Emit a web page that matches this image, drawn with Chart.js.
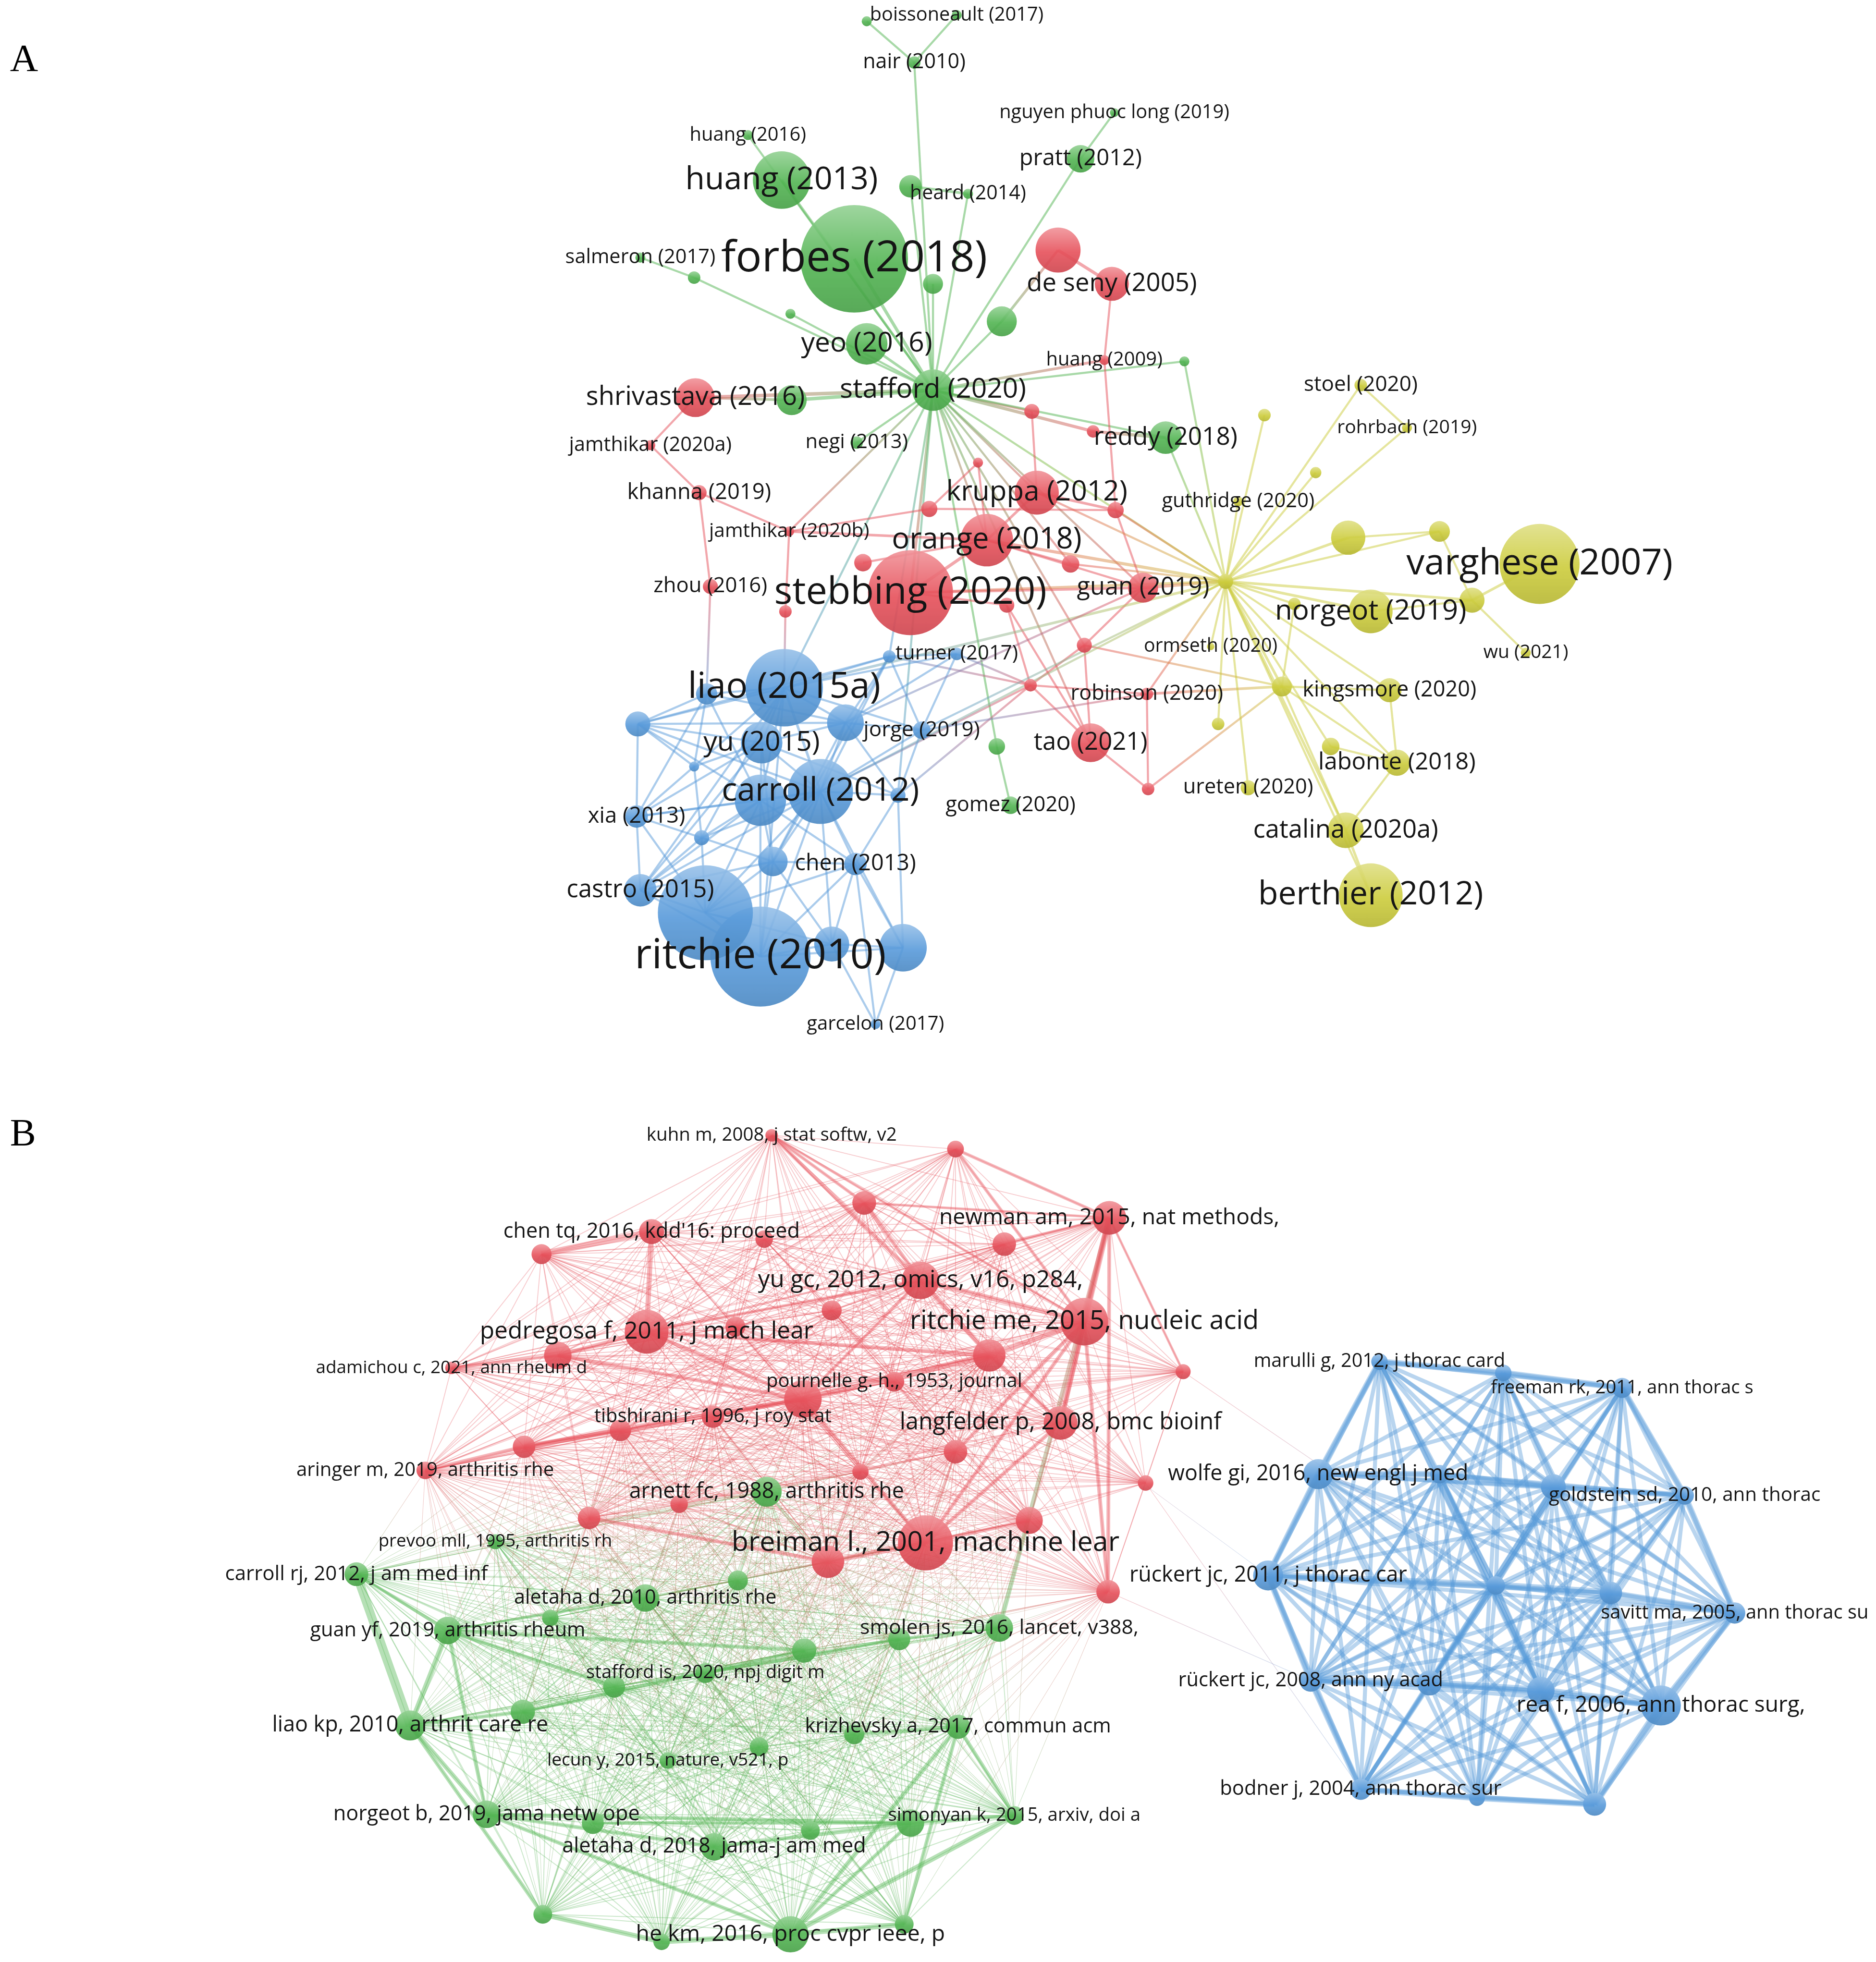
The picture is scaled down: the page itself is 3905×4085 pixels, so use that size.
<!DOCTYPE html>
<html>
<head>
<meta charset="utf-8">
<title>Citation and co-citation networks</title>
<script src="https://cdn.jsdelivr.net/npm/chart.js@4.4.1/dist/chart.umd.min.js"></script>
<style>
  html, body { margin: 0; padding: 0; background: #fff; }
  #page { position: relative; width: 3905px; height: 4085px; overflow: hidden; }
  canvas { position: absolute; left: 0; }
</style>
</head>
<body>
<div id="page">
  <canvas id="netA" width="3905" height="2252" style="top:0;width:3905px;height:2252px"></canvas>
  <canvas id="netB" width="3905" height="1833" style="top:2252px;width:3905px;height:1833px"></canvas>
</div>
<script>
// ---- panel A : citation network of documents (map coordinates, weight = node radius) ----
const aLabel = [
  "boissoneault (2017)", "#g1", "nair (2010)", "nguyen phuoc long (2019)", "huang (2016)", "pratt (2012)", "huang (2013)", "#g2", "heard (2014)", "salmeron (2017)",
  "forbes (2018)", "#g3", "#g4", "#g5", "#g6", "yeo (2016)", "#g7", "stafford (2020)", "#g8", "negi (2013)", "reddy (2018)", "#g9", "gomez (2020)",
  "#r1", "de seny (2005)", "huang (2009)", "shrivastava (2016)", "#r2", "#r3", "jamthikar (2020a)", "#r4", "khanna (2019)", "kruppa (2012)",
  "#r5", "#r6", "jamthikar (2020b)", "orange (2018)", "#r7", "#r8", "zhou (2016)", "stebbing (2020)", "guan (2019)", "#r9",
  "#r10", "#r11", "#r12", "robinson (2020)", "tao (2021)", "#r13",
  "#b1", "turner (2017)", "liao (2015a)", "#b2", "#b3", "#b4", "jorge (2019)", "yu (2015)", "#b5", "carroll (2012)",
  "#b6", "#b7", "xia (2013)", "#b8", "#b9", "chen (2013)", "castro (2015)", "#b10", "ritchie (2010)", "#b11", "#b12", "garcelon (2017)",
  "#y1", "stoel (2020)", "rohrbach (2019)", "#y2", "guthridge (2020)", "#y4", "#y3", "varghese (2007)", "#hub", "#y5",
  "norgeot (2019)", "#y6", "ormseth (2020)", "wu (2021)", "#y7", "kingsmore (2020)", "#y8", "#y9", "labonte (2018)", "ureten (2020)",
  "catalina (2020a)", "berthier (2012)"
];
const aX = [
  765, 693, 731, 891, 598, 864, 625, 728, 774, 512, 683, 555, 746, 632, 801, 693, 947, 746, 633, 685, 932, 797, 808,
  846, 889, 883, 556, 825, 874, 520, 782, 559, 829, 743, 892, 631, 789, 690, 856, 568, 728, 914, 805, 628, 867, 824, 917, 872, 918,
  711, 765, 627, 565, 510, 676, 737, 609, 555, 656, 608, 718, 509, 561, 618, 684, 512, 564, 608, 665, 722, 700,
  1011, 1088, 1125, 1052, 990, 1151, 1078, 1231, 980, 1035, 1096, 1177, 968, 1220, 1025, 1111, 974, 1064, 1117, 998, 1076, 1096
];
const aY = [
  12, 17, 50, 90, 108, 127, 144, 149, 155, 206, 207, 222, 227, 251, 257, 275, 289, 312, 320, 354, 350, 597, 644,
  200, 227, 288, 318, 329, 345, 356, 370, 394, 394, 407, 408, 425, 432, 450, 451, 469, 474, 470, 484, 489, 516, 548, 555, 594, 631,
  525, 523, 550, 555, 579, 578, 584, 594, 613, 633, 640, 636, 653, 670, 689, 691, 712, 730, 765, 755, 758, 819,
  332, 308, 342, 378, 401, 425, 430, 451, 465, 483, 489, 480, 517, 522, 549, 552, 579, 597, 610, 630, 664, 716
];
const aWeight = [
  4, 4, 5, 3.5, 4, 11, 23, 9, 4, 4, 43, 5, 8, 4, 12, 16.6, 4, 16.6, 12, 5, 13, 6.6, 7,
  18, 13.6, 4, 15.5, 6, 5, 4, 4, 6, 17.6, 6.5, 6.5, 4, 21, 7, 7, 6, 34, 12, 6, 5, 6, 5, 5, 15.5, 5,
  5, 5, 31, 8.5, 10, 14.7, 7, 16.6, 4, 26, 20.5, 6, 9, 6, 11.8, 9, 13, 38, 40, 14, 19, 4,
  5, 5, 4, 4.5, 4, 8.3, 13.7, 32, 6, 5, 17.5, 10, 3, 4, 8, 9.6, 5, 7, 10.5, 6, 14.3, 25.5
];
const aCluster = [...'g'.repeat(23), ...'r'.repeat(26), ...'b'.repeat(22), ...'y'.repeat(22)];
const aLinks = [
  ["boissoneault", "nair", 1.2], ["#g1", "nair", 1.2], ["nair", "stafford", 1.2], ["nguyen", "pratt", 1.2], ["pratt", "stafford", 1.2],
  ["huang (2016)", "stafford", 1.2], ["huang (2013)", "stafford", 1.5], ["forbes", "stafford", 1.8], ["#g2", "heard", 1.5], ["#g2", "stafford", 1.2],
  ["heard", "stafford", 1.2], ["salmeron", "#g3", 1.2], ["#g3", "stafford", 1.2], ["#g5", "stafford", 1.2], ["#g4", "stafford", 1.2],
  ["#g6", "stafford", 1.2], ["yeo", "stafford", 1.5], ["#g8", "stafford", 2], ["shrivastava", "stafford", 2], ["negi", "stafford", 1.2],
  ["stafford", "huang (2009)", 1.5], ["stafford", "#g7", 1.2], ["#g7", "#hub", 1.2], ["stafford", "#r3", 1.8], ["#r3", "reddy", 1.8],
  ["stafford", "#r2", 1.2], ["reddy", "#hub", 1.2], ["stafford", "reddy", 1.2], ["stafford", "#g9", 1.2], ["#g9", "gomez", 1.2],
  ["stafford", "kruppa", 1.2], ["stafford", "orange", 1.2], ["stafford", "stebbing", 1.5], ["stafford", "guan", 1.2], ["stafford", "#hub", 1.2],
  ["stafford", "#r8", 1.2], ["stafford", "tao", 1.2], ["stafford", "jamthikar (2020b)", 1.2], ["stafford", "liao", 1.2], ["stafford", "#b1", 1.2],
  ["stafford", "#b7", 1.2], ["stafford", "#r11", 1.2], ["#r1", "de seny", 1.8], ["#r1", "#g6", 1.5], ["de seny", "huang (2009)", 1.2],
  ["huang (2009)", "#r6", 1.2],
  ["shrivastava", "jamthikar (2020a)", 1.2], ["shrivastava", "#g8", 1.5], ["jamthikar (2020a)", "khanna", 1.2], ["khanna", "jamthikar (2020b)", 1.2],
  ["khanna", "zhou", 1.2], ["jamthikar (2020b)", "orange", 1.5], ["jamthikar (2020b)", "#r5", 1.2], ["#r5", "#r6", 1.2], ["jamthikar (2020b)", "#r10", 1.2],
  ["#r10", "liao", 1.2], ["zhou", "#b2", 1.2], ["#r2", "kruppa", 1.2], ["#r4", "orange", 1.2], ["#r4", "#r5", 1.2],
  ["kruppa", "#r6", 1.5], ["kruppa", "orange", 1.5], ["orange", "stebbing", 1.8], ["orange", "#r8", 1.2], ["orange", "#hub", 1.8],
  ["orange", "guan", 1.2], ["#r6", "guan", 1.2], ["#r6", "#hub", 1.2], ["#r7", "orange", 1.2], ["stebbing", "#r9", 1.2],
  ["#r9", "tao", 1.2], ["#r9", "#r12", 1.2], ["stebbing", "guan", 1.5], ["stebbing", "#hub", 1.5], ["guan", "#hub", 1.8],
  ["guan", "#r11", 1.2], ["#r11", "#r12", 1.2], ["#r11", "tao", 1.2], ["#r12", "robinson", 1.2], ["#r12", "tao", 1.2],
  ["#r12", "#b1", 1.2], ["#r12", "carroll", 1.2], ["robinson", "#r13", 1.2], ["tao", "#r13", 1.2], ["robinson", "#hub", 1.2],
  ["robinson", "#y7", 1.5], ["#r13", "#y7", 1.2], ["#r8", "#hub", 1.2], ["#r11", "#y7", 1.2], ["kruppa", "#hub", 1.2],
  ["liao", "#b2", 1.2], ["liao", "#b3", 1.2], ["liao", "yu", 1.2], ["liao", "carroll", 1.5], ["liao", "#b6", 1.2],
  ["liao", "#b4", 1.2], ["liao", "jorge", 1.2], ["liao", "#b1", 1.2], ["liao", "#b5", 1.2], ["liao", "#b8", 1.2],
  ["liao", "castro", 1.2], ["liao", "ritchie", 1.2], ["liao", "turner", 1.2], ["#b1", "turner", 1.2], ["#b1", "#b3", 1.2],
  ["#b1", "carroll", 1.2], ["#b1", "#b4", 1.2], ["#b1", "#b9", 1.2], ["turner", "jorge", 1.2], ["turner", "#b4", 1.2],
  ["#b3", "#b2", 1.2], ["#b3", "yu", 1.2], ["#b3", "#b5", 1.2], ["#b3", "xia", 1.2], ["#b3", "carroll", 1.2],
  ["#b3", "#b6", 1.2], ["#b3", "#b4", 1.2], ["yu", "#b6", 1.2], ["yu", "carroll", 1.2], ["yu", "#b4", 1.2],
  ["yu", "#b5", 1.2], ["yu", "xia", 1.2], ["yu", "#b9", 1.2], ["yu", "castro", 1.2], ["yu", "#b7", 1.2],
  ["carroll", "#b6", 1.5], ["carroll", "#b4", 1.2], ["carroll", "#b7", 1.2], ["carroll", "chen", 1.2], ["carroll", "#b12", 1.2],
  ["carroll", "#b11", 1.2], ["carroll", "ritchie", 1.2], ["carroll", "#b10", 1.2], ["carroll", "#b9", 1.2], ["carroll", "xia", 1.2],
  ["carroll", "jorge", 1.2], ["carroll", "#b8", 1.2], ["carroll", "castro", 1.2], ["#b6", "#b9", 1.2], ["#b6", "#b8", 1.2],
  ["#b6", "castro", 1.2], ["#b6", "xia", 1.2], ["#b6", "#b10", 1.2], ["#b6", "ritchie", 1.2], ["#b6", "chen", 1.2],
  ["#b6", "#b2", 1.2], ["xia", "#b5", 1.2], ["xia", "#b8", 1.2], ["xia", "castro", 1.2], ["xia", "#b2", 1.2],
  ["xia", "#b10", 1.2], ["#b8", "castro", 1.2], ["#b8", "#b10", 1.2], ["#b8", "#b9", 1.2], ["#b8", "#b5", 1.2],
  ["#b9", "#b10", 1.2], ["#b9", "ritchie", 1.2], ["#b9", "chen", 1.2], ["#b9", "#b11", 1.2], ["chen", "#b7", 1.2],
  ["chen", "#b11", 1.2], ["chen", "#b12", 1.2], ["chen", "ritchie", 1.2], ["chen", "garcelon", 1.2], ["castro", "#b10", 1.2],
  ["castro", "ritchie", 1.2], ["castro", "#b9", 1.2], ["#b10", "ritchie", 1.5], ["#b10", "#b11", 1.2], ["#b10", "chen", 1.2],
  ["ritchie", "#b11", 1.2], ["ritchie", "#b12", 1.2], ["#b11", "#b12", 1.2], ["#b11", "garcelon", 1.2], ["#b12", "garcelon", 1.2],
  ["#b12", "#b7", 1.2], ["#b7", "jorge", 1.2], ["#b7", "#b4", 1.2], ["#b4", "jorge", 1.2], ["#b4", "#b2", 1.2],
  ["#b4", "#b9", 1.2], ["#b5", "#b2", 1.2], ["jorge", "#b1", 1.2],
  ["jorge", "#hub", 1.2], ["liao", "#hub", 1.5], ["carroll", "#hub", 1.2], ["#b4", "guan", 1.2], ["#b7", "#r12", 1.2],
  ["jorge", "robinson", 1.2], ["turner", "#r12", 1.2],
  ["#hub", "#y1", 1.2], ["#hub", "stoel", 1.2], ["#hub", "#y2", 1.2], ["#hub", "rohrbach", 1.2], ["#hub", "guthridge", 1.2],
  ["#hub", "#y3", 1.5], ["#hub", "#y4", 1.2], ["#hub", "#y6", 1.5], ["#hub", "norgeot", 1.5], ["#hub", "#y5", 1.2],
  ["#hub", "kingsmore", 1.2], ["#hub", "#y7", 1.5], ["#hub", "labonte", 1.2], ["#hub", "#y9", 1.2], ["#hub", "ureten", 1.2],
  ["#hub", "#y8", 1.2], ["#hub", "catalina", 1.5], ["#hub", "ormseth", 1.2], ["#hub", "berthier", 1.2], ["stoel", "rohrbach", 1.2],
  ["#y3", "#y4", 1.2], ["#y4", "#y6", 1.2], ["#y6", "varghese", 1.5], ["#y6", "wu", 1.2], ["norgeot", "#y6", 1.2],
  ["#y5", "#y7", 1.2], ["#y7", "kingsmore", 1.2], ["#y7", "labonte", 1.2], ["#y9", "labonte", 1.2], ["kingsmore", "labonte", 1.2],
  ["labonte", "catalina", 1.2], ["#y7", "catalina", 1.2], ["catalina", "berthier", 1.5]
];

// ---- panel B : co-citation network of cited references ----
const bLabel = [
  "kuhn m, 2008, j stat softw, v2", "#r2", "#r3", "newman am, 2015, nat methods,", "chen tq, 2016, kdd'16: proceed", "#r6", "#r7", "#r8",
  "yu gc, 2012, omics, v16, p284,", "#r10", "ritchie me, 2015, nucleic acid", "pedregosa f, 2011, j mach lear", "#r13", "#r14",
  "adamichou c, 2021, ann rheum d", "#r16", "#r17", "pournelle g. h., 1953, journal", "#r19", "tibshirani r, 1996, j roy stat",
  "langfelder p, 2008, bmc bioinf", "#r22", "#r23", "#r24", "aringer m, 2019, arthritis rhe", "#r26", "#r27", "#r28", "#r29", "#r30",
  "breiman l., 2001, machine lear", "#r32", "#r33",
  "arnett fc, 1988, arthritis rhe", "prevoo mll, 1995, arthritis rh", "carroll rj, 2012, j am med inf", "#g4", "aletaha d, 2010, arthritis rhe",
  "#g6", "guan yf, 2019, arthritis rheum", "smolen js, 2016, lancet, v388,", "#g9", "#g10", "stafford is, 2020, npj digit m", "#g12", "#g13",
  "liao kp, 2010, arthrit care re", "#g15", "krizhevsky a, 2017, commun acm", "#g17", "lecun y, 2015, nature, v521, p",
  "norgeot b, 2019, jama netw ope", "#g20", "#g21", "simonyan k, 2015, arxiv, doi a", "#g23", "aletaha d, 2018, jama-j am med", "#g25",
  "he km, 2016, proc cvpr ieee, p", "#g27", "#g28",
  "marulli g, 2012, j thorac card", "#b2", "freeman rk, 2011, ann thorac s", "wolfe gi, 2016, new engl j med", "#b5", "#b6",
  "goldstein sd, 2010, ann thorac", "rückert jc, 2011, j thorac car", "#b9", "#b10", "savitt ma, 2005, ann thorac su",
  "rückert jc, 2008, ann ny acad", "#b13", "#b14", "rea f, 2006, ann thorac surg,", "bodner j, 2004, ann thorac sur", "#b17", "#b18"
];
const bX = [
  617, 764, 691, 887, 521, 433, 611, 803, 736, 665, 867, 517, 588, 446, 361, 791, 946, 715, 642, 570,
  848, 496, 419, 764, 340, 688, 916, 543, 471, 823, 740, 662, 886,
  613, 396, 285, 590, 516, 440, 358, 799, 719, 643, 564, 491, 418, 328, 683, 766, 607, 534, 389, 474,
  728, 811, 648, 571, 434, 632, 529, 723,
  1103, 1202, 1297, 1054, 1151, 1242, 1347, 1014, 1196, 1288, 1387, 1048, 1143, 1232, 1328, 1088, 1181, 1275
];
const bY = [
  908, 919, 962, 974, 985, 1003, 991, 995, 1024, 1048, 1057, 1065, 1061, 1084, 1094, 1084, 1097, 1105, 1119, 1133,
  1138, 1144, 1157, 1161, 1176, 1177, 1186, 1203, 1214, 1216, 1234, 1249, 1273,
  1193, 1233, 1259, 1264, 1278, 1294, 1304, 1302, 1311, 1320, 1338, 1349, 1369, 1380, 1387, 1381, 1397, 1408, 1451, 1458,
  1458, 1452, 1464, 1477, 1531, 1547, 1553, 1539,
  1089, 1098, 1110, 1179, 1179, 1189, 1196, 1260, 1268, 1274, 1290, 1344, 1346, 1352, 1364, 1431, 1438, 1443
];
const bWeight = [
  5, 6.7, 9.5, 13.5, 10, 8, 7, 9.4, 15, 8, 19, 17.5, 8, 11, 5, 13, 6, 8, 15, 9,
  13.5, 8.6, 9, 9.4, 7, 6.5, 6.2, 7, 9, 10.8, 22, 13, 9.4,
  12, 6, 9.5, 8, 11, 6.6, 11, 11, 8.8, 9.7, 8, 8.8, 9.7, 12, 8, 9.7, 7.5, 6.6, 11, 8.8,
  11, 7.5, 7.5, 11, 7.5, 14.5, 6.6, 7.5,
  6.6, 6.6, 8, 12, 7.4, 10, 7.4, 12, 7.4, 9, 8.5, 9, 10, 11, 16, 8.5, 6.3, 9.2
];
const bCluster = [...'r'.repeat(33), ...'g'.repeat(28), ...'b'.repeat(18)];
// clusters whose members are all linked to each other (link width)
const bMesh = [["r", "r", 0.7], ["g", "g", 0.75], ["b", "b", 3.2]];
// red references co-cited with every green reference
const bCrossRed = ["breiman", "#r32", "#r28", "#r29", "#r30", "#r26", "#r24", "#r22", "#r23", "aringer", "tibshirani", "#r19", "#r33", "#r16"];
const bLinks = [
  ["ritchie me", "newman", 5], ["ritchie me", "langfelder", 4], ["ritchie me", "yu gc", 4], ["ritchie me", "#r16", 4], ["ritchie me", "breiman", 3],
  ["newman", "langfelder", 3], ["newman", "smolen", 3.5], ["yu gc", "#r16", 3.5], ["yu gc", "pedregosa", 2.5], ["yu gc", "#r19", 2.5],
  ["#r16", "#r19", 5], ["#r19", "tibshirani", 3], ["#r19", "#r23", 4], ["pedregosa", "chen tq", 4], ["chen tq", "#r6", 5],
  ["pedregosa", "#r14", 3], ["pedregosa", "#r19", 3], ["kuhn", "yu gc", 3], ["kuhn", "#r3", 2.5], ["#r2", "newman", 2.5],
  ["#r3", "yu gc", 3], ["breiman", "#r32", 4], ["breiman", "#r30", 3], ["breiman", "#r19", 3], ["breiman", "langfelder", 3],
  ["#r23", "aringer", 3], ["#r23", "#r22", 3], ["#r29", "#r32", 3], ["#r16", "langfelder", 3], ["#r24", "ritchie me", 3],
  ["newman", "#r33", 3], ["ritchie me", "#r33", 3], ["newman", "#r17", 2], ["pedregosa", "#r16", 3], ["#r14", "#r19", 3],
  ["#r8", "newman", 2.5], ["#r3", "newman", 2], ["kuhn", "ritchie me", 2], ["#r2", "ritchie me", 2.5], ["adamichou", "#r14", 2.5],
  ["carroll rj", "liao kp", 7], ["liao kp", "guan yf", 4], ["liao kp", "norgeot b", 3.5], ["norgeot b", "he km", 3], ["#g25", "#g27", 4],
  ["#g27", "he km", 4], ["he km", "#g28", 4], ["he km", "simonyan", 4], ["he km", "krizhevsky", 3.5], ["#g21", "he km", 3],
  ["simonyan", "krizhevsky", 3], ["simonyan", "#g21", 3], ["guan yf", "#g10", 3], ["guan yf", "#g12", 3], ["#g13", "#g10", 3],
  ["stafford is", "#g9", 3], ["norgeot b", "#g21", 3], ["norgeot b", "aletaha d, 2018", 3], ["aletaha d, 2018", "#g21", 3], ["#g15", "krizhevsky", 3],
  ["liao kp", "#g25", 3], ["guan yf", "norgeot b", 3], ["#g13", "liao kp", 3], ["smolen", "#g9", 2.5], ["aletaha d, 2010", "guan yf", 2],
  ["carroll rj", "guan yf", 2.5], ["krizhevsky", "#g28", 3], ["#g20", "#g21", 2.5],
  ["marulli", "#b2", 5], ["#b2", "freeman", 5], ["freeman", "goldstein", 5], ["goldstein", "savitt", 5], ["savitt", "rea f", 5.5],
  ["rea f", "#b18", 5.5], ["#b18", "#b17", 5], ["#b17", "bodner", 5], ["bodner", "rückert jc, 2008", 5], ["rückert jc, 2008", "rückert jc, 2011", 5],
  ["rückert jc, 2011", "wolfe", 5], ["wolfe", "marulli", 5], ["rückert jc, 2011", "#b9", 6], ["#b9", "#b10", 6], ["#b10", "savitt", 5],
  ["rückert jc, 2008", "#b13", 6], ["#b13", "#b14", 6], ["#b14", "rea f", 6], ["wolfe", "#b5", 5], ["#b5", "#b6", 5], ["#b6", "goldstein", 5],
  ["#r17", "#b9", 0.5], ["#r27", "bodner", 0.5], ["langfelder", "rückert jc, 2011", 0.4], ["#r33", "rückert jc, 2008", 0.5]
];

// label widths as they appear in the figure (0 = no label shown)
const aLabelW = [
  139, 0, 82, 184, 93, 98, 154, 0, 93, 120, 213, 0, 0, 0, 0, 105, 0, 149, 0, 82, 115, 0, 104,
  0, 136, 93, 175, 0, 0, 130, 0, 115, 145, 0, 0, 128, 152, 0, 0, 91, 218, 106, 0, 0, 0, 0, 122, 91, 0,
  0, 98, 154, 0, 0, 0, 93, 93, 0, 158, 0, 0, 78, 0, 0, 97, 118, 0, 201, 0, 0, 110,
  0, 91, 112, 0, 122, 0, 0, 213, 0, 0, 153, 0, 107, 68, 0, 139, 0, 0, 126, 104, 148, 180
];
const bLabelW = [
  200, 0, 0, 272, 237, 0, 0, 0, 260, 0, 279, 267, 0, 0, 217, 0, 0, 205, 0, 190,
  257, 0, 0, 0, 206, 0, 0, 0, 0, 0, 310, 0, 0,
  220, 187, 210, 0, 210, 0, 220, 223, 0, 0, 191, 0, 0, 221, 0, 245, 0, 193, 245, 0,
  0, 202, 0, 243, 0, 247, 0, 0,
  201, 0, 210, 240, 0, 0, 217, 222, 0, 0, 214, 212, 0, 0, 231, 225, 0, 0
];

const K = 3905 / 1500;   // canvas pixels per map unit
const COLORS = { r: [230, 80, 90], g: [82, 180, 82], b: [88, 154, 218], y: [204, 204, 60] };

function rgba(c, a) { return 'rgba(' + Math.round(c[0]) + ',' + Math.round(c[1]) + ',' + Math.round(c[2]) + ',' + a + ')'; }
function tint(c, t) { return c.map(v => v + (255 - v) * t); }
function shade(c, t) { return c.map(v => v * t); }
const ok = (...v) => v.every(Number.isFinite);

function findNode(p, key) {
  let i = p.label.indexOf(key);
  if (i < 0) i = p.label.findIndex(n => n.startsWith(key));
  if (i < 0) console.warn('no node', key);
  return i;
}

function buildEdges(p, links, mesh, cross) {
  const out = [];
  const n = p.label.length;
  (mesh || []).forEach(([c1, c2, w]) => {
    for (let i = 0; i < n; i++) for (let j = i + 1; j < n; j++) {
      if (p.cluster[i] === c1 && p.cluster[j] === c2) out.push([i, j, w]);
    }
  });
  if (cross) {
    cross.keys.forEach(k => {
      const i = findNode(p, k);
      if (i < 0) return;
      for (let j = 0; j < n; j++) if (p.cluster[j] === cross.cluster) out.push([i, j, cross.w]);
    });
  }
  links.forEach(([a, b, w]) => {
    const i = findNode(p, a), j = findNode(p, b);
    if (i >= 0 && j >= 0) out.push([i, j, w]);
  });
  return out;
}

function labelPlugin(p, letter) {
  return {
    id: 'nodeLabels',
    afterDatasetsDraw(chart) {
      const { ctx, scales } = chart;
      ctx.save();
      ctx.textAlign = 'center';
      ctx.textBaseline = 'middle';
      ctx.fillStyle = '#151515';
      p.label.forEach((name, i) => {
        if (!p.labelW[i]) return;
        ctx.font = '100px "Open Sans"';
        const size = 100 * p.labelW[i] * K / ctx.measureText(name).width;
        ctx.font = size.toFixed(1) + 'px "Open Sans"';
        ctx.fillText(name, scales.x.getPixelForValue(p.x[i]), scales.y.getPixelForValue(p.y[i]));
      });
      ctx.textAlign = 'left';
      ctx.textBaseline = 'alphabetic';
      ctx.fillStyle = '#000';
      ctx.font = Math.round(31 * K) + 'px "Liberation Serif", "DejaVu Serif", serif';
      ctx.fillText(letter.text, scales.x.getPixelForValue(letter.x), scales.y.getPixelForValue(letter.y));
      ctx.restore();
    }
  };
}

function drawNetwork(canvasId, p, edges, yMin, letter, look) {
  const canvas = document.getElementById(canvasId);
  const yMax = yMin + canvas.height / K;
  const order = p.label.map((_, i) => i).sort((a, b) => p.size[b] - p.size[a]);
  const nodeData = order.map(i => ({ x: p.x[i], y: p.y[i], i }));
  const edgeData = [];
  edges.forEach(([i, j]) => {
    edgeData.push({ x: p.x[i], y: p.y[i] }, { x: p.x[j], y: p.y[j] }, { x: null, y: null });
  });
  const edgeOf = c => edges[Math.floor(c.p0DataIndex / 3)];

  new Chart(canvas, {
    type: 'scatter',
    data: {
      datasets: [
        {
          data: nodeData,
          order: 0,
          pointRadius: c => c.raw ? p.size[c.raw.i] * K : 0,
          pointHoverRadius: c => c.raw ? p.size[c.raw.i] * K : 0,
          pointBorderWidth: 0,
          pointBackgroundColor: c => {
            if (!c.raw) return 'rgba(0,0,0,0)';
            const i = c.raw.i;
            const col = COLORS[p.cluster[i]];
            const py = c.chart.scales.y.getPixelForValue(p.y[i]);
            const r = p.size[i] * K;
            if (!ok(py, r)) return rgba(col, 0.9);
            const g = c.chart.ctx.createLinearGradient(0, py - r, 0, py + r);
            g.addColorStop(0, rgba(tint(col, 0.38), 0.9));
            g.addColorStop(0.55, rgba(col, 0.9));
            g.addColorStop(1, rgba(shade(col, 0.9), 0.92));
            return g;
          }
        },
        {
          data: edgeData,
          order: 1,
          showLine: true,
          spanGaps: false,
          tension: 0,
          pointRadius: 0,
          pointHoverRadius: 0,
          borderWidth: 1,
          borderColor: 'rgba(0,0,0,0.2)',
          segment: {
            borderWidth: c => edgeOf(c)[2] * K * look.width,
            borderColor: c => {
              const e = edgeOf(c);
              const a = e[2] < 1 ? look.thinAlpha : look.alpha;
              const ca = COLORS[p.cluster[e[0]]], cb = COLORS[p.cluster[e[1]]];
              if (ca === cb || !c.p0 || !c.p1 || !ok(c.p0.x, c.p0.y, c.p1.x, c.p1.y)) return rgba(ca, a);
              const g = c.chart.ctx.createLinearGradient(c.p0.x, c.p0.y, c.p1.x, c.p1.y);
              g.addColorStop(0, rgba(ca, a));
              g.addColorStop(1, rgba(cb, a));
              return g;
            }
          }
        }
      ]
    },
    options: {
      responsive: false,
      animation: false,
      devicePixelRatio: 1,
      events: [],
      layout: { padding: 0, autoPadding: false },
      plugins: { legend: { display: false }, tooltip: { enabled: false } },
      scales: {
        x: { type: 'linear', min: 0, max: 1500, display: false },
        y: { type: 'linear', min: yMin, max: yMax, reverse: true, display: false }
      }
    },
    plugins: [labelPlugin(p, letter)]
  });
}

const panelA = { label: aLabel, x: aX, y: aY, size: aWeight, cluster: aCluster, labelW: aLabelW };
const panelB = { label: bLabel, x: bX, y: bY, size: bWeight, cluster: bCluster, labelW: bLabelW };

drawNetwork('netA', panelA, buildEdges(panelA, aLinks), 0, { text: 'A', x: 8, y: 57 },
  { width: 1.4, alpha: 0.5, thinAlpha: 0.35 });
drawNetwork('netB', panelB,
  buildEdges(panelB, bLinks, bMesh, { keys: bCrossRed, cluster: 'g', w: 0.45 }),
  2252 / K, { text: 'B', x: 8, y: 916 },
  { width: 1, alpha: 0.42, thinAlpha: 0.3 });
</script>
</body>
</html>
